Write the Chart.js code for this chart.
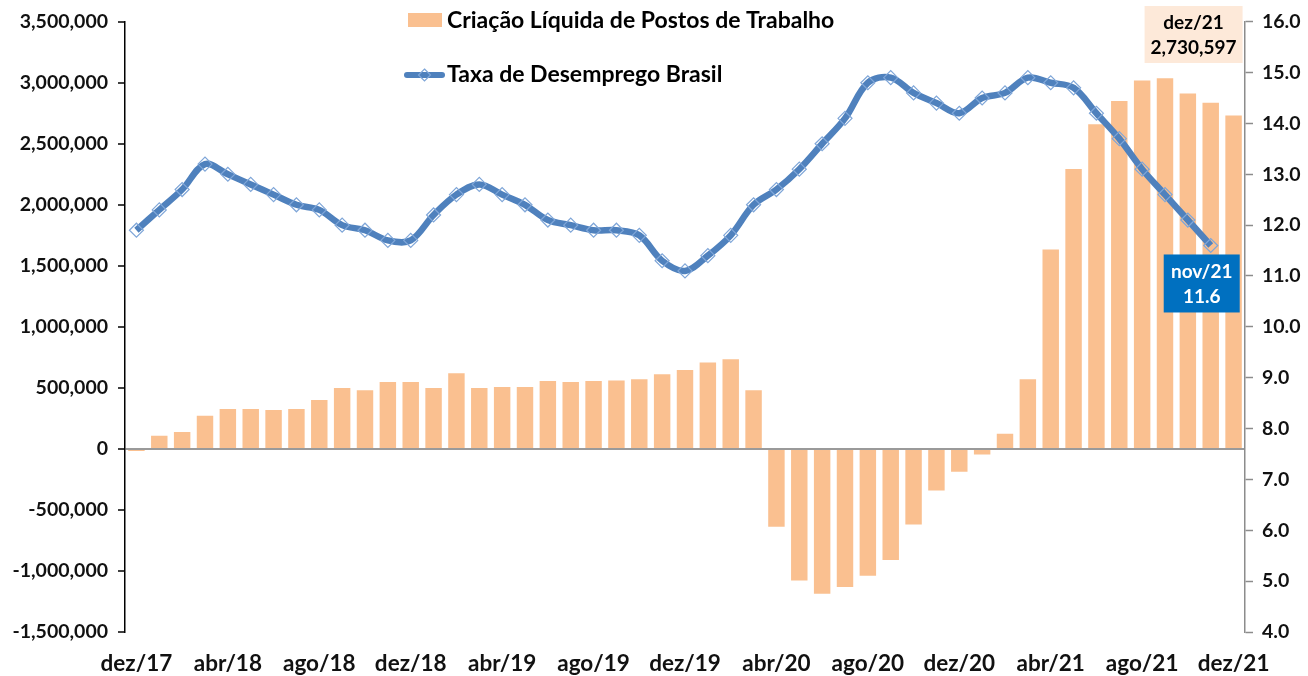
<!DOCTYPE html>
<html lang="pt-BR">
<head>
<meta charset="utf-8">
<title>Criação Líquida de Postos de Trabalho x Taxa de Desemprego</title>
<script src="https://cdn.jsdelivr.net/npm/chart.js@4.4.1/dist/chart.umd.min.js"></script>
<style>
    html, body { margin: 0; padding: 0; background: #fff; }
    #wrap { width: 1308px; height: 676px; }
</style>
</head>
<body>
<div id="wrap"><canvas id="grafico" width="1308" height="676"></canvas></div>
<script>
// Meses (dez/17 a dez/21)
const meses = [
    'dez/17', 'jan/18', 'fev/18', 'mar/18', 'abr/18', 'mai/18', 'jun/18', 'jul/18', 'ago/18', 'set/18', 'out/18', 'nov/18',
    'dez/18', 'jan/19', 'fev/19', 'mar/19', 'abr/19', 'mai/19', 'jun/19', 'jul/19', 'ago/19', 'set/19', 'out/19', 'nov/19',
    'dez/19', 'jan/20', 'fev/20', 'mar/20', 'abr/20', 'mai/20', 'jun/20', 'jul/20', 'ago/20', 'set/20', 'out/20', 'nov/20',
    'dez/20', 'jan/21', 'fev/21', 'mar/21', 'abr/21', 'mai/21', 'jun/21', 'jul/21', 'ago/21', 'set/21', 'out/21', 'nov/21',
    'dez/21'
];

// Criação líquida de postos de trabalho (eixo esquerdo)
const criacaoPostos = [
    -18000, 108000, 138000, 271000, 326000, 326000, 318000, 326000, 401000, 499000, 480000, 548000,
    548000, 499000, 619000, 499000, 507000, 507000, 556000, 548000, 556000, 560000, 570000, 611000,
    646000, 708000, 735000, 480000, -638000, -1078000, -1187000, -1132000, -1040000, -910000, -619000, -340000,
    -187000, -46000, 125000, 570000, 1634000, 2293000, 2660000, 2850000, 3018000, 3037000, 2912000, 2836000,
    2730597
];

// Taxa de desemprego Brasil, % (eixo direito)
const taxaDesemprego = [
    11.9, 12.3, 12.7, 13.2, 13.0, 12.8, 12.6, 12.4, 12.3, 12.0, 11.9, 11.7,
    11.7, 12.2, 12.6, 12.8, 12.6, 12.4, 12.1, 12.0, 11.9, 11.9, 11.8, 11.3,
    11.1, 11.4, 11.8, 12.4, 12.7, 13.1, 13.6, 14.1, 14.8, 14.9, 14.6, 14.4,
    14.2, 14.5, 14.6, 14.9, 14.8, 14.7, 14.2, 13.7, 13.1, 12.6, 12.1, 11.6,
    null
];

const ticksEsquerda = [-1500000, -1000000, -500000, 0, 500000, 1000000, 1500000, 2000000, 2500000, 3000000, 3500000];
const ticksDireita = [4, 5, 6, 7, 8, 9, 10, 11, 12, 13, 14, 15, 16];

const FONTE = 'Lato, "Open Sans", "DejaVu Sans", sans-serif';
const COR_BARRA = '#FAC090';
const COR_LINHA = '#4F81BD';
const COR_MARCADOR = '#7FA6D8';

// Legenda e rótulos desenhados por cima do gráfico
const rotulos = {
    id: 'rotulos',
    afterDatasetsDraw(chart) {
        const { ctx, scales } = chart;
        const x = scales.x, y1 = scales.y1;
        ctx.save();
        ctx.textBaseline = 'middle';
        ctx.font = 'bold 23px ' + FONTE;

        // legenda
        ctx.fillStyle = COR_BARRA;
        ctx.fillRect(408, 13, 34, 14);
        ctx.fillStyle = '#000';
        ctx.textAlign = 'left';
        ctx.fillText('Criação Líquida de Postos de Trabalho', 447, 21);

        ctx.strokeStyle = COR_LINHA;
        ctx.lineWidth = 6;
        ctx.lineCap = 'round';
        ctx.beginPath();
        ctx.moveTo(407, 75);
        ctx.lineTo(442, 75);
        ctx.stroke();
        ctx.strokeStyle = COR_MARCADOR;
        ctx.lineWidth = 1.2;
        ctx.beginPath();
        ctx.moveTo(424.5, 69); ctx.lineTo(430.5, 75); ctx.lineTo(424.5, 81); ctx.lineTo(418.5, 75); ctx.closePath();
        ctx.stroke();
        ctx.fillStyle = '#000';
        ctx.fillText('Taxa de Desemprego Brasil', 447, 75);

        // rótulo dez/21 (barras)
        const ult = criacaoPostos.length - 1;
        const bx = x.getPixelForValue(ult) - 40;
        ctx.fillStyle = '#FDE9D9';
        ctx.fillRect(bx - 49, 6, 98, 57);
        ctx.fillStyle = '#000';
        ctx.textAlign = 'center';
        ctx.font = 'bold 19px ' + FONTE;
        ctx.fillText(meses[ult], bx, 23);
        ctx.fillText(criacaoPostos[ult].toLocaleString('en-US'), bx, 48);

        // rótulo nov/21 (linha)
        const iu = taxaDesemprego.length - 2;
        const px = x.getPixelForValue(iu);
        const py = y1.getPixelForValue(taxaDesemprego[iu]);
        const lx = px - 9;
        ctx.fillStyle = '#0070C0';
        ctx.fillRect(lx - 38, py + 9, 76, 58);
        ctx.fillStyle = '#fff';
        ctx.fillText(meses[iu], lx, py + 26);
        ctx.fillText(taxaDesemprego[iu].toFixed(1), lx, py + 51);
        ctx.restore();
    }
};

new Chart(document.getElementById('grafico').getContext('2d'), {
    type: 'bar',
    data: {
        labels: meses,
        datasets: [
            {
                type: 'line',
                label: 'Taxa de Desemprego Brasil',
                data: taxaDesemprego,
                yAxisID: 'y1',
                borderColor: COR_LINHA,
                borderWidth: 6.5,
                tension: 0.35,
                pointStyle: 'rectRot',
                pointRadius: 7,
                pointBorderWidth: 1.2,
                pointBackgroundColor: 'rgba(0,0,0,0)',
                pointBorderColor: COR_MARCADOR,
                order: 0
            },
            {
                label: 'Criação Líquida de Postos de Trabalho',
                data: criacaoPostos,
                yAxisID: 'y',
                backgroundColor: COR_BARRA,
                categoryPercentage: 1,
                barPercentage: 0.72,
                order: 1
            }
        ]
    },
    options: {
        responsive: false,
        animation: false,
        devicePixelRatio: 1,
        layout: { padding: { top: 18, left: 0, right: 0, bottom: 0 } },
        plugins: {
            legend: { display: false },
            tooltip: { enabled: false }
        },
        scales: {
            x: {
                grid: { display: false, drawTicks: false },
                border: { display: false },
                ticks: {
                    autoSkip: false,
                    maxRotation: 0,
                    padding: 18,
                    color: '#111',
                    font: { family: FONTE, size: 22.5, weight: 'bold' },
                    callback: (v, i) => (i % 4 === 0 ? meses[i] : '')
                },
                afterFit: s => { s.height = 44; }
            },
            y: {
                position: 'left',
                min: -1500000,
                max: 3500000,
                afterBuildTicks: s => { s.ticks = ticksEsquerda.map(v => ({ value: v })); },
                grid: {
                    color: c => (c.tick && c.tick.value === 0 ? '#9a9a9a' : 'rgba(0,0,0,0)'),
                    lineWidth: 2,
                    tickColor: '#000',
                    tickLength: 7,
                    tickWidth: 1.5
                },
                border: { color: '#000', width: 1.5 },
                ticks: {
                    padding: 10,
                    color: '#111',
                    font: { family: FONTE, size: 19.5, weight: 'bold' },
                    callback: v => v.toLocaleString('en-US')
                },
                afterFit: s => { s.width = 125; }
            },
            y1: {
                position: 'right',
                min: 4,
                max: 16,
                afterBuildTicks: s => { s.ticks = ticksDireita.map(v => ({ value: v })); },
                grid: {
                    drawOnChartArea: false,
                    tickColor: '#8c8c8c',
                    tickLength: 8,
                    tickWidth: 1.5
                },
                border: { color: '#8c8c8c', width: 1.5 },
                ticks: {
                    padding: 9,
                    color: '#111',
                    font: { family: FONTE, size: 19.5, weight: 'bold' },
                    callback: v => v.toFixed(1)
                },
                afterFit: s => { s.width = 63; }
            }
        }
    },
    plugins: [rotulos]
});
</script>
</body>
</html>
